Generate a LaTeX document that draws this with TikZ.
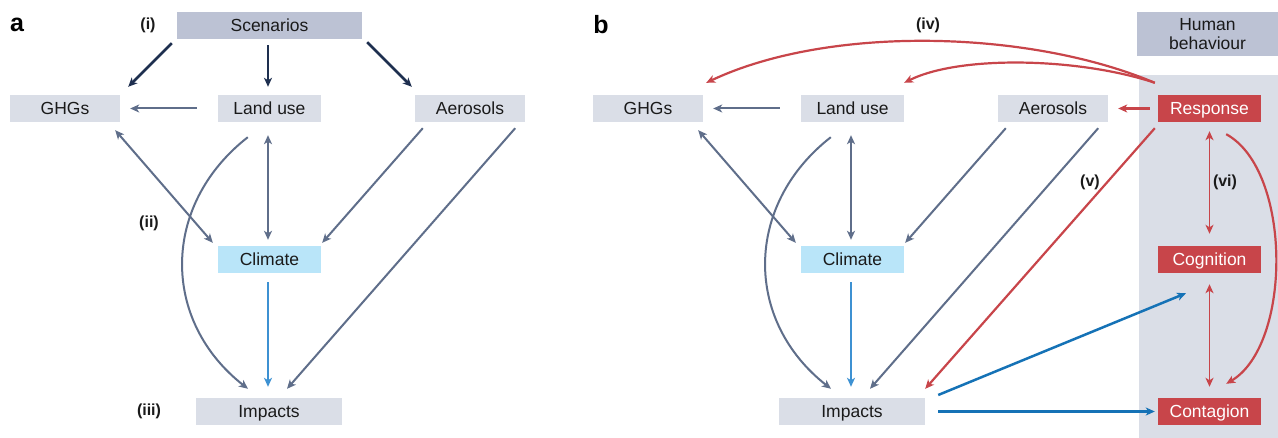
\documentclass[tikz,border=0pt]{standalone}
\usepackage{fontspec}
\setmainfont{Liberation Sans}
\usepackage{tikz}
\usetikzlibrary{positioning,arrows.meta,calc}
\definecolor{boxgrey}{HTML}{DADEE7}
\definecolor{headgrey}{HTML}{BCC2D4}
\definecolor{climblue}{HTML}{B9E5F9}
\definecolor{behred}{HTML}{C8454A}
\definecolor{navyc}{HTML}{1E2F4F}
\definecolor{slatec}{HTML}{5F6E8A}
\definecolor{skyc}{HTML}{3D91D2}
\definecolor{bluec}{HTML}{1572B6}
\definecolor{inkc}{HTML}{1A1A1A}
\newcommand{\boxfont}{\fontsize{17.5}{20}\selectfont}
\tikzset{
  box/.style={fill=boxgrey, text=inkc, minimum height=27, inner sep=0pt,
    text height=14.5pt, text depth=2.5pt, font=\boxfont},
  headbox/.style={box, fill=headgrey},
  climbox/.style={box, fill=climblue},
  redbox/.style={box, fill=behred, text=white},
  tag/.style={text=inkc, font=\bfseries\fontsize{16}{19}\selectfont},
  paneltag/.style={text=black, font=\bfseries\fontsize{25}{28}\selectfont},
  tip/.style={-{Stealth[length=9pt,width=8pt,inset=2.5pt]}},
  twotip/.style={{Stealth[length=9pt,width=8pt,inset=2.5pt]}-{Stealth[length=9pt,width=8pt,inset=2.5pt]}},
  navyarr/.style={draw=navyc, line width=2.5pt, tip},
  slatearr/.style={draw=slatec, line width=2pt, tip},
  slatetwo/.style={draw=slatec, line width=2pt, twotip},
  skyarr/.style={draw=skyc, line width=2pt, tip},
  bluearr/.style={draw=bluec, line width=2.5pt, tip},
  redarr/.style={draw=behred, line width=2.2pt, tip},
  redtwo/.style={draw=behred, line width=1.6pt, twotip}
}
% shared climate part of both panels: #1 = name prefix, #2 = x shift
\newcommand{\corepanel}[2]{%
  \node[box, minimum width=110] (#1ghg) at ({#2+65},108.5) {GHGs};
  \node[box, minimum width=103] (#1lu) at ({#2+269.5},108.5) {Land use};
  \node[box, minimum width=110] (#1aer) at ({#2+470},108.5) {Aerosols};
  \node[climbox, minimum width=103] (#1cli) at ({#2+269.5},259.5) {Climate};
  \node[box, minimum width=146] (#1imp) at ({#2+269},411.5) {Impacts};
  \draw[slatearr] ($(#1lu.west)+(-21,0)$) -- ($(#1ghg.east)+(10,0)$);
  \draw[slatetwo] ($(#1ghg.south east)+(-5,8)$) -- ($(#1cli.north west)+(-5,-3)$);
  \draw[slatetwo] ($(#1lu.south)+(-1.5,13)$) -- ($(#1cli.north)+(-1.5,-6)$);
  \draw[slatearr] ($(#1aer.south west)+(8,6)$) -- ($(#1cli.north east)+(1,-3)$);
  \draw[slatearr] ($(#1aer.south east)+(-10,6)$) -- ($(#1imp.north)+(18,-9)$);
  \draw[slatearr] ($(#1lu.south west)+(30,15)$) .. controls +(-87,68) and +(-87,-68) .. ($(#1imp.north)+(-21,-9)$);
  \draw[skyarr] ($(#1cli.south)+(-1.5,9)$) -- ($(#1imp.north)+(-1,-11)$);
}

\begin{document}
\begin{tikzpicture}[x=1pt,y=-1pt]
  \useasboundingbox (0,0) rectangle (1278,438);
  \fill[white] (0,0) rectangle (1278,438);
  \fill[boxgrey] (1139,75) rectangle (1278,438);

  % panel a
  \node[paneltag] (taga) at (17,25) {a};
  \node[headbox, minimum width=185] (scen) at (269.5,25.5) {Scenarios};
  \corepanel{a}{0}
  \draw[navyarr] ($(scen.south west)+(-5,4)$) -- ($(aghg.north east)+(8,-8)$);
  \draw[navyarr] ($(scen.south)+(-1.5,6)$) -- ($(alu.north)+(-1.5,-8)$);
  \draw[navyarr] ($(scen.south east)+(5,3)$) -- ($(aaer.north west)+(-3,-8)$);
  \node[tag] (lbli) at (148,25) {(i)};
  \node[tag] (lblii) at (149,223) {(ii)};
  \node[tag] (lbliii) at (149,411) {(iii)};

  % panel b
  \node[paneltag] (tagb) at (601,25) {b};
  \corepanel{b}{583}
  \node[fill=headgrey, text=inkc, inner sep=0pt, minimum width=141, minimum height=44, align=center, font=\fontsize{17.5}{19.5}\selectfont] (human) at (1207.5,34) {Human\\behaviour};
  \node[redbox, minimum width=103] (resp) at (1209.5,108.5) {Response};
  \node[redbox, minimum width=103] (cog) at (1209.5,259.5) {Cognition};
  \node[redbox, minimum width=103] (cont) at (1209.5,411.5) {Contagion};
  \draw[redarr] ($(resp.west)+(-8,0)$) -- ($(baer.east)+(10,0)$);
  \draw[redarr] ($(resp.north west)+(-3,-12)$) .. controls +(-125,-53) and +(123,-58) .. ($(bghg.north east)+(3,-12)$);
  \draw[redarr] ($(resp.north west)+(-3,-12)$) .. controls +(-75,-25) and +(56,-28) .. ($(blu.north east)+(0,-12)$);
  \draw[redarr] ($(resp.south west)+(-3,6)$) -- ($(bimp.north east)+(0,-9)$);
  \draw[redtwo] ($(resp.south)+(0,9)$) -- ($(cog.north)+(0,-12)$);
  \draw[redtwo] ($(cog.south)+(0,11)$) -- ($(cont.north)+(0,-11)$);
  \draw[redarr] ($(resp.south east)+(-35,12)$) .. controls +(66,36) and +(66,-39) .. ($(cont.north east)+(-35,-14)$);
  \draw[bluearr] ($(bimp.east)+(13,-16.5)$) -- ($(cog.south)+(-23.5,20)$);
  \draw[bluearr] ($(bimp.east)+(13,0)$) -- ($(cont.west)+(-3,0)$);
  \node[tag] (lbliv) at (928,25) {(iv)};
  \node[tag] (lblv) at (1090,182) {(v)};
  \node[tag] (lblvi) at (1225,182) {(vi)};
\end{tikzpicture}
\end{document}
